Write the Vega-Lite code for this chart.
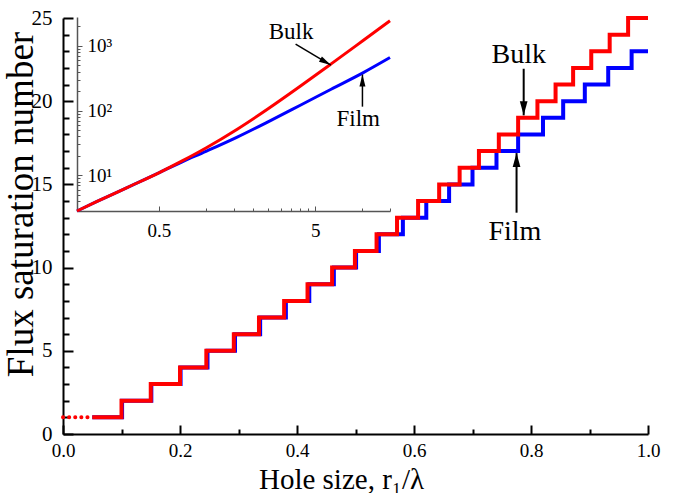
{
  "$schema": "https://vega.github.io/schema/vega-lite/v6.json",
  "width": 585,
  "height": 416,
  "autosize": "none",
  "padding": {"left": 63, "top": 18, "right": 26, "bottom": 59},
  "background": "white",
  "config": {
    "view": {"stroke": null},
    "font": "Liberation Serif",
    "axis": {"grid": false, "labelFont": "Liberation Serif", "titleFont": "Liberation Serif", "labelColor": "black", "titleColor": "black", "titleFontWeight": "normal", "labelFlush": false, "labelOverlap": false, "labelBound": false}
  },
  "datasets": {
    "steps": [
      {"x": 0.05, "n": 1, "series": "Film"}, {"x": 0.101, "n": 2, "series": "Film"}, {"x": 0.151, "n": 3, "series": "Film"}, {"x": 0.201, "n": 4, "series": "Film"}, {"x": 0.247, "n": 5, "series": "Film"}, {"x": 0.294, "n": 6, "series": "Film"}, {"x": 0.337, "n": 7, "series": "Film"}, {"x": 0.381, "n": 8, "series": "Film"}, {"x": 0.421, "n": 9, "series": "Film"}, {"x": 0.463, "n": 10, "series": "Film"}, {"x": 0.501, "n": 11, "series": "Film"}, {"x": 0.54, "n": 12, "series": "Film"}, {"x": 0.581, "n": 13, "series": "Film"}, {"x": 0.621, "n": 14, "series": "Film"}, {"x": 0.66, "n": 15, "series": "Film"}, {"x": 0.7, "n": 16, "series": "Film"}, {"x": 0.741, "n": 17, "series": "Film"}, {"x": 0.778, "n": 18, "series": "Film"}, {"x": 0.8205, "n": 19, "series": "Film"}, {"x": 0.855, "n": 20, "series": "Film"}, {"x": 0.892, "n": 21, "series": "Film"}, {"x": 0.932, "n": 22, "series": "Film"}, {"x": 0.972, "n": 23, "series": "Film"}, {"x": 1.0, "n": 23, "series": "Film"},
      {"x": 0.05, "n": 1, "series": "Bulk"}, {"x": 0.1, "n": 2, "series": "Bulk"}, {"x": 0.15, "n": 3, "series": "Bulk"}, {"x": 0.2, "n": 4, "series": "Bulk"}, {"x": 0.245, "n": 5, "series": "Bulk"}, {"x": 0.292, "n": 6, "series": "Bulk"}, {"x": 0.335, "n": 7, "series": "Bulk"}, {"x": 0.378, "n": 8, "series": "Bulk"}, {"x": 0.418, "n": 9, "series": "Bulk"}, {"x": 0.46, "n": 10, "series": "Bulk"}, {"x": 0.499, "n": 11, "series": "Bulk"}, {"x": 0.536, "n": 12, "series": "Bulk"}, {"x": 0.571, "n": 13, "series": "Bulk"}, {"x": 0.607, "n": 14, "series": "Bulk"}, {"x": 0.643, "n": 15, "series": "Bulk"}, {"x": 0.678, "n": 16, "series": "Bulk"}, {"x": 0.711, "n": 17, "series": "Bulk"}, {"x": 0.745, "n": 18, "series": "Bulk"}, {"x": 0.778, "n": 19, "series": "Bulk"}, {"x": 0.811, "n": 20, "series": "Bulk"}, {"x": 0.842, "n": 21, "series": "Bulk"}, {"x": 0.872, "n": 22, "series": "Bulk"}, {"x": 0.903, "n": 23, "series": "Bulk"}, {"x": 0.9345, "n": 24, "series": "Bulk"}, {"x": 0.966, "n": 25, "series": "Bulk"}, {"x": 1.0, "n": 25, "series": "Bulk"}
    ],
    "dotted": [{"x": 0.0, "n": 1}, {"x": 0.05, "n": 1}],
    "mainArrows": [
      {"name": "Bulk", "x": 0.7875, "from": 21.95, "to": 19.15},
      {"name": "Film", "x": 0.7753, "from": 13.3, "to": 16.88}
    ],
    "mainNotes": [
      {"label": "Bulk", "x": 0.779, "n": 22.31},
      {"label": "Film", "x": 0.7725, "n": 11.66}
    ],
    "curves": [
      {"r": 0.15, "n": 2.8, "series": "Film"}, {"r": 0.2, "n": 3.9, "series": "Film"}, {"r": 0.316, "n": 6.5, "series": "Film"}, {"r": 0.5, "n": 10.9, "series": "Film"}, {"r": 0.7, "n": 16.0, "series": "Film"}, {"r": 1.0, "n": 23.4, "series": "Film"}, {"r": 1.585, "n": 38.9, "series": "Film"}, {"r": 2.51, "n": 67.6, "series": "Film"}, {"r": 3.98, "n": 120, "series": "Film"}, {"r": 6.31, "n": 214, "series": "Film"}, {"r": 10, "n": 380, "series": "Film"}, {"r": 15, "n": 661, "series": "Film"},
      {"r": 0.15, "n": 2.8, "series": "Bulk"}, {"r": 0.2, "n": 3.9, "series": "Bulk"}, {"r": 0.316, "n": 6.5, "series": "Bulk"}, {"r": 0.5, "n": 10.9, "series": "Bulk"}, {"r": 0.7, "n": 16.5, "series": "Bulk"}, {"r": 1.0, "n": 26.4, "series": "Bulk"}, {"r": 1.585, "n": 51.5, "series": "Bulk"}, {"r": 2.51, "n": 107.6, "series": "Bulk"}, {"r": 3.98, "n": 235.5, "series": "Bulk"}, {"r": 6.31, "n": 527, "series": "Bulk"}, {"r": 10, "n": 1191, "series": "Bulk"}, {"r": 15, "n": 2449, "series": "Bulk"}
    ],
    "insetArrows": [
      {"name": "Bulk", "r": 3.74, "r2": 6.28, "n": 1067, "n2": 505},
      {"name": "Film", "r": 10, "r2": 10, "n": 115, "n2": 360}
    ],
    "insetNotes": [
      {"label": "Bulk", "r": 3.5, "n": 1262},
      {"label": "Film", "r": 9.4, "n": 57.7}
    ]
  },
  "layer": [
    {
      "data": {"name": "steps"},
      "transform": [{"filter": "datum.series == 'Film'"}],
      "mark": {"type": "line", "interpolate": "step-after", "color": "#0000ff", "strokeWidth": 4, "strokeJoin": "miter"},
      "encoding": {
        "x": {"field": "x", "type": "quantitative", "scale": {"domain": [0, 1], "nice": false, "zero": false},
          "axis": {
            "orient": "bottom",
            "values": [0, 0.2, 0.4, 0.6, 0.8, 1.0],
            "format": ".1f",
            "tickSize": -9,
            "domainColor": "black", "domainWidth": 2, "tickColor": "black", "tickWidth": 2,
            "labelFontSize": 19, "labelPadding": 16, "labelBaseline": "top",
            "title": "Hole size, r₁/λ", "titleFontSize": 29, "titleX": 278, "titleY": 54, "titleBaseline": "alphabetic"
          }
        },
        "y": {"field": "n", "type": "quantitative", "scale": {"domain": [0, 25], "nice": false},
          "axis": {
            "orient": "left",
            "values": [0, 5, 10, 15, 20, 25],
            "tickSize": -10,
            "domainColor": "black", "domainWidth": 2, "tickColor": "black", "tickWidth": 2,
            "labelFontSize": 21, "labelPadding": 21,
            "title": "Flux saturation number", "titleFontSize": 37, "titleAngle": 270, "titleX": -31, "titleY": 186, "titleBaseline": "alphabetic"
          }
        }
      }
    },
    {
      "data": {"name": "dotted"},
      "mark": {"type": "point", "opacity": 0},
      "encoding": {
        "x": {"field": "x", "type": "quantitative", "scale": {"domain": [0, 1], "nice": false, "zero": false},
          "axis": {"orient": "bottom", "values": [0.1, 0.3, 0.5, 0.7, 0.9], "labels": false, "domain": false, "tickSize": -5, "tickColor": "black", "tickWidth": 2, "title": null}},
        "y": {"field": "n", "type": "quantitative", "scale": {"domain": [0, 25], "nice": false},
          "axis": {"orient": "left", "values": [1, 2, 3, 4, 6, 7, 8, 9, 11, 12, 13, 14, 16, 17, 18, 19, 21, 22, 23, 24], "labels": false, "domain": false, "tickSize": -6, "tickColor": "black", "tickWidth": 2, "title": null}}
      }
    },
    {
      "data": {"name": "steps"},
      "transform": [{"filter": "datum.series == 'Bulk'"}],
      "mark": {"type": "line", "interpolate": "step-after", "color": "#ff0000", "strokeWidth": 4, "strokeJoin": "miter"},
      "encoding": {
        "x": {"field": "x", "type": "quantitative", "scale": {"domain": [0, 1], "nice": false, "zero": false}, "axis": null},
        "y": {"field": "n", "type": "quantitative", "scale": {"domain": [0, 25], "nice": false}, "axis": null}
      }
    },
    {
      "data": {"name": "dotted"},
      "mark": {"type": "line", "color": "#ff0000", "strokeWidth": 4, "strokeDash": [0.1, 6], "strokeCap": "round"},
      "encoding": {
        "x": {"field": "x", "type": "quantitative", "scale": {"domain": [0, 1], "nice": false, "zero": false}, "axis": null},
        "y": {"field": "n", "type": "quantitative", "scale": {"domain": [0, 25], "nice": false}, "axis": null}
      }
    },
    {
      "data": {"name": "mainArrows"},
      "mark": {"type": "rule", "color": "black", "strokeWidth": 2},
      "encoding": {
        "x": {"field": "x", "type": "quantitative", "scale": {"domain": [0, 1], "nice": false, "zero": false}, "axis": null},
        "y": {"field": "from", "type": "quantitative", "scale": {"domain": [0, 25], "nice": false}, "axis": null},
        "y2": {"field": "to"}
      }
    },
    {
      "data": {"name": "mainArrows"},
      "transform": [{"filter": "datum.name == 'Bulk'"}],
      "mark": {"type": "point", "shape": "M0,0L-0.55,2L0.55,2Z", "filled": true, "color": "black", "opacity": 1, "size": 196, "angle": 180, "strokeWidth": 0},
      "encoding": {
        "x": {"field": "x", "type": "quantitative", "scale": {"domain": [0, 1], "nice": false, "zero": false}, "axis": null},
        "y": {"field": "to", "type": "quantitative", "scale": {"domain": [0, 25], "nice": false}, "axis": null}
      }
    },
    {
      "data": {"name": "mainArrows"},
      "transform": [{"filter": "datum.name == 'Film'"}],
      "mark": {"type": "point", "shape": "M0,0L-0.55,2L0.55,2Z", "filled": true, "color": "black", "opacity": 1, "size": 196, "angle": 0, "strokeWidth": 0},
      "encoding": {
        "x": {"field": "x", "type": "quantitative", "scale": {"domain": [0, 1], "nice": false, "zero": false}, "axis": null},
        "y": {"field": "to", "type": "quantitative", "scale": {"domain": [0, 25], "nice": false}, "axis": null}
      }
    },
    {
      "data": {"name": "mainNotes"},
      "mark": {"type": "text", "font": "Liberation Serif", "fontSize": 28, "color": "black", "align": "center", "baseline": "alphabetic"},
      "encoding": {
        "x": {"field": "x", "type": "quantitative", "scale": {"domain": [0, 1], "nice": false, "zero": false}, "axis": null},
        "y": {"field": "n", "type": "quantitative", "scale": {"domain": [0, 25], "nice": false}, "axis": null},
        "text": {"field": "label"}
      }
    },
    {
      "data": {"name": "curves"},
      "transform": [{"filter": "datum.series == 'Film'"}],
      "mark": {"type": "line", "interpolate": "monotone", "color": "#0000ff", "strokeWidth": 3},
      "encoding": {
        "x": {"field": "r", "type": "quantitative", "scale": {"type": "log", "domain": [0.15, 15], "range": [14, 327], "nice": false},
          "axis": {
            "orient": "bottom", "offset": -223,
            "values": [0.5, 5],
            "labelExpr": "datum.value == 0.5 ? '0.5' : '5'",
            "tickSize": -5,
            "domainColor": "#555555", "domainWidth": 1.5, "tickColor": "#555555", "tickWidth": 1,
            "labelFontSize": 19, "labelPadding": 15, "labelBaseline": "top", "title": null
          }
        },
        "y": {"field": "n", "type": "quantitative", "scale": {"type": "log", "domain": [2.8, 2800], "range": [193, -1], "nice": false},
          "axis": {
            "orient": "right", "offset": -571,
            "values": [10, 100, 1000],
            "labelExpr": "datum.value == 10 ? '10¹' : datum.value == 100 ? '10²' : '10³'",
            "tickSize": 5,
            "domainColor": "#555555", "domainWidth": 1.5, "tickColor": "#555555", "tickWidth": 1,
            "labelFontSize": 19, "labelPadding": 5, "title": null
          }
        }
      }
    },
    {
      "data": {"name": "insetNotes"},
      "mark": {"type": "point", "opacity": 0},
      "encoding": {
        "x": {"field": "r", "type": "quantitative", "scale": {"type": "log", "domain": [0.15, 15], "range": [14, 327], "nice": false},
          "axis": {"orient": "bottom", "offset": -223, "values": [1, 1.5, 2, 2.5, 3, 3.5, 4, 4.5, 10, 15], "labels": false, "domain": false, "tickSize": -3, "tickColor": "#555555", "tickWidth": 1, "title": null}},
        "y": {"field": "n", "type": "quantitative", "scale": {"type": "log", "domain": [2.8, 2800], "range": [193, -1], "nice": false},
          "axis": {"orient": "right", "offset": -571, "values": [3, 4, 5, 6, 7, 8, 9, 20, 30, 40, 50, 60, 70, 80, 90, 200, 300, 400, 500, 600, 700, 800, 900, 2000], "labels": false, "domain": false, "tickSize": 3, "tickColor": "#555555", "tickWidth": 1, "title": null}}
      }
    },
    {
      "data": {"name": "curves"},
      "transform": [{"filter": "datum.series == 'Bulk'"}],
      "mark": {"type": "line", "interpolate": "monotone", "color": "#ff0000", "strokeWidth": 3},
      "encoding": {
        "x": {"field": "r", "type": "quantitative", "scale": {"type": "log", "domain": [0.15, 15], "range": [14, 327], "nice": false}, "axis": null},
        "y": {"field": "n", "type": "quantitative", "scale": {"type": "log", "domain": [2.8, 2800], "range": [193, -1], "nice": false}, "axis": null}
      }
    },
    {
      "data": {"name": "insetArrows"},
      "mark": {"type": "rule", "color": "black", "strokeWidth": 1.5},
      "encoding": {
        "x": {"field": "r", "type": "quantitative", "scale": {"type": "log", "domain": [0.15, 15], "range": [14, 327], "nice": false}, "axis": null},
        "x2": {"field": "r2"},
        "y": {"field": "n", "type": "quantitative", "scale": {"type": "log", "domain": [2.8, 2800], "range": [193, -1], "nice": false}, "axis": null},
        "y2": {"field": "n2"}
      }
    },
    {
      "data": {"name": "insetArrows"},
      "transform": [{"filter": "datum.name == 'Bulk'"}],
      "mark": {"type": "point", "shape": "M0,0L-0.5,2L0.5,2Z", "filled": true, "color": "black", "opacity": 1, "size": 144, "angle": 120, "strokeWidth": 0},
      "encoding": {
        "x": {"field": "r2", "type": "quantitative", "scale": {"type": "log", "domain": [0.15, 15], "range": [14, 327], "nice": false}, "axis": null},
        "y": {"field": "n2", "type": "quantitative", "scale": {"type": "log", "domain": [2.8, 2800], "range": [193, -1], "nice": false}, "axis": null}
      }
    },
    {
      "data": {"name": "insetArrows"},
      "transform": [{"filter": "datum.name == 'Film'"}],
      "mark": {"type": "point", "shape": "M0,0L-0.5,2L0.5,2Z", "filled": true, "color": "black", "opacity": 1, "size": 144, "angle": 0, "strokeWidth": 0},
      "encoding": {
        "x": {"field": "r2", "type": "quantitative", "scale": {"type": "log", "domain": [0.15, 15], "range": [14, 327], "nice": false}, "axis": null},
        "y": {"field": "n2", "type": "quantitative", "scale": {"type": "log", "domain": [2.8, 2800], "range": [193, -1], "nice": false}, "axis": null}
      }
    },
    {
      "data": {"name": "insetNotes"},
      "mark": {"type": "text", "font": "Liberation Serif", "fontSize": 23, "color": "black", "align": "center", "baseline": "alphabetic"},
      "encoding": {
        "x": {"field": "r", "type": "quantitative", "scale": {"type": "log", "domain": [0.15, 15], "range": [14, 327], "nice": false}, "axis": null},
        "y": {"field": "n", "type": "quantitative", "scale": {"type": "log", "domain": [2.8, 2800], "range": [193, -1], "nice": false}, "axis": null},
        "text": {"field": "label"}
      }
    }
  ],
  "resolve": {"scale": {"x": "independent", "y": "independent"}, "axis": {"x": "independent", "y": "independent"}}
}
